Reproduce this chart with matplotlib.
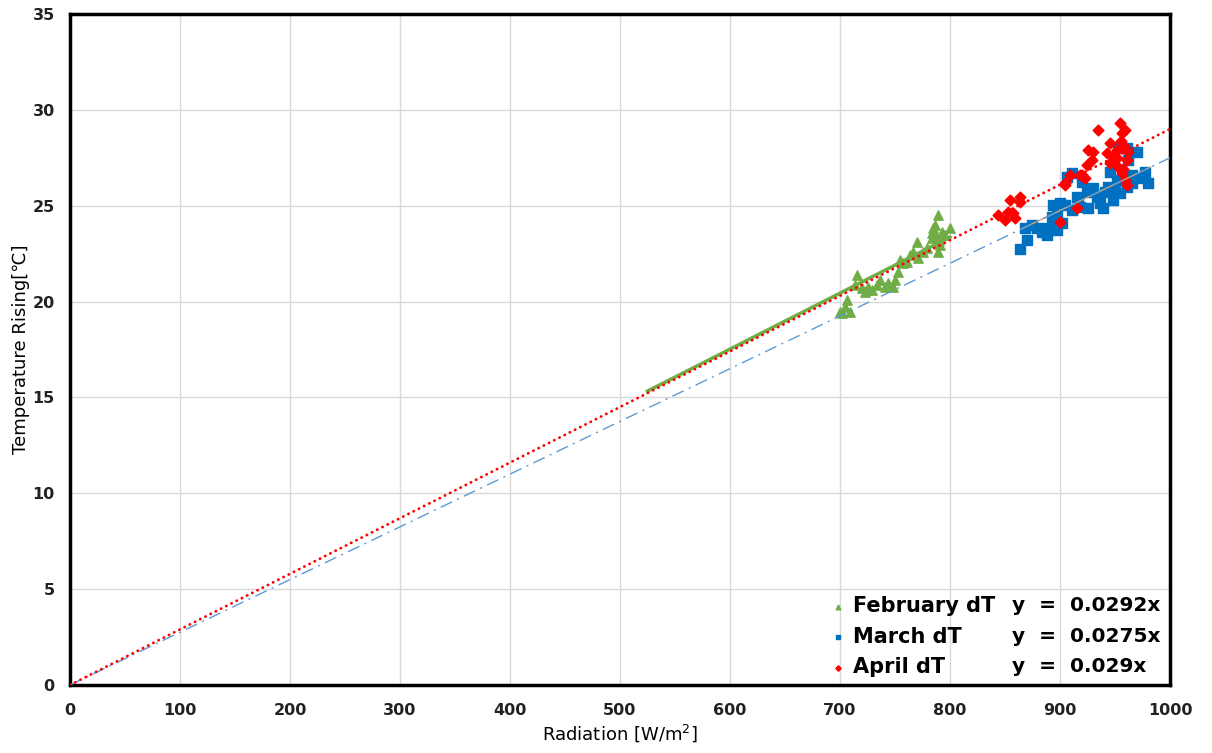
import numpy as np
import matplotlib.pyplot as plt

# Radiation [W/m2] vs temperature rise [C]
feb_x = [700, 701.5, 704.5, 706, 709, 713.6, 715, 719.7, 722.7, 725.8, 728.8, 733.3, 736, 741,
         743.9, 748.5, 750, 753, 754.5, 757.5, 760.6, 763.6, 766.6, 769.7, 771, 775.7, 778.8,
         783.3, 784.8, 786.4, 789.4, 789.4, 787.9, 792.4, 795.5, 800, 786.4, 791, 784, 790]
feb_y = [19.47, 19.39, 19.73, 20.08, 19.47, 20.87, 21.39, 20.7, 20.5, 20.78, 20.6, 20.87, 21.13, 20.78,
         20.95, 20.78, 21.13, 21.56, 22.17, 22.0, 22.08, 22.43, 22.6, 23.13, 22.26, 22.6, 22.78,
         23.3, 23.82, 24.0, 24.5, 22.6, 23.13, 23.65, 23.47, 23.82, 23.47, 22.95, 23.6, 23.2]

mar_x = [863.6, 869.7, 868.2, 874.2, 878.8, 883.3, 887.9, 889.4, 893.9, 897, 892.4, 897, 893.9,
         900, 904.5, 910.6, 906, 915, 918, 901.5, 910.6, 916.7, 919.7, 924.2, 925.8, 930.3,
         933.3, 936.4, 939.4, 940.9, 943.9, 948.5, 950, 945.5, 951.5, 954.5, 953, 960.6, 962,
         965.2, 969.7, 969.7, 977.3, 980.3, 960.6, 965]
mar_y = [22.72, 23.21, 23.82, 24.0, 23.82, 23.65, 23.47, 23.82, 24.0, 23.73, 24.43, 24.52, 25.04,
         25.13, 25.04, 26.7, 26.52, 25.47, 24.95, 24.08, 24.78, 25.39, 26.26, 25.73, 24.86, 25.91,
         25.47, 25.13, 24.86, 25.73, 26.0, 25.3, 25.82, 26.78, 26.34, 25.65, 28.08, 27.99, 27.39,
         26.6, 27.82, 26.43, 26.78, 26.17, 26.0, 26.2]

apr_x = [844, 850, 853, 854.5, 857.5, 859, 863.6, 863.6, 900, 904.5, 909, 915, 918, 904.5,
         919.7, 924.2, 925.8, 930.3, 928.8, 934.8, 922.7, 942.4, 945.5, 945.5, 951.5, 954.5,
         956, 959, 953, 956, 959, 960.6, 960.6, 948.5, 955, 952, 958, 962, 957]
apr_y = [24.52, 24.26, 24.69, 25.3, 24.6, 24.34, 25.47, 25.2, 24.17, 26.08, 26.6, 24.86, 26.6, 26.17,
         26.6, 27.13, 27.91, 27.82, 27.39, 28.95, 26.43, 27.74, 28.26, 27.21, 27.91, 29.3,
         28.78, 28.95, 27.04, 26.7, 26.34, 26.08, 27.39, 27.6, 28.4, 27.5, 28.1, 27.8, 26.9]

# trendline slopes (forced through zero) and drawn ranges
slope_feb, slope_mar, slope_apr = 0.0292, 0.0275, 0.029
feb_fit_x = [525, 800]
mar_fit_x = [865, 982]
full_x = [0, 1000]

labels = ["February dT", "March dT", "April dT"]
equations = ["y  =  0.0292x", "y  =  0.0275x", "y  =  0.029x"]

plt.rcParams['font.family'] = ['DejaVu Sans', 'Noto Sans CJK KR']

fig = plt.figure(figsize=(12.12, 7.53), dpi=100)
ax = fig.add_axes([70/1212, 68/753, 1100/1212, 671/753])

ax.scatter(feb_x, feb_y, marker='^', s=45, color='#70AD47', zorder=3, label=labels[0])
ax.scatter(mar_x, mar_y, marker='s', s=45, color='#0070C0', zorder=3, label=labels[1])
ax.scatter(apr_x, apr_y, marker='D', s=30, color='#FF0000', zorder=3, label=labels[2])

ax.plot(feb_fit_x, [slope_feb*v for v in feb_fit_x], color='#70AD47', lw=2.5, zorder=2)
ax.plot(mar_fit_x, [slope_mar*v for v in mar_fit_x], color='#D4A373', lw=1, zorder=4)
ax.plot(full_x, [slope_mar*v for v in full_x], color='#5B9BD5', lw=1, ls=(0, (9, 4, 1.5, 4)), zorder=4)
ax.plot(full_x, [slope_apr*v for v in full_x], color='#FF0000', lw=2, ls=(0, (0.1, 2.0)),
        dash_capstyle='round', zorder=4)

ax.set_xlim(0, 1000)
ax.set_ylim(0, 35)
ax.set_xticks(np.arange(0, 1001, 100))
ax.set_yticks(np.arange(0, 36, 5))
ax.grid(True, color='#D9D9D9', lw=1)
ax.set_axisbelow(True)
for s in ax.spines.values():
    s.set_linewidth(2.5)
    s.set_color('black')
ax.tick_params(axis='y', length=0, pad=11, labelsize=11.5)
ax.tick_params(axis='x', length=0, pad=13, labelsize=11.5)
for t in ax.get_xticklabels() + ax.get_yticklabels():
    t.set_fontweight('bold')
    t.set_color('#222222')

ax.set_xlabel("Radiation [W/m$^2$]", fontsize=13, labelpad=3)
ax.set_ylabel("Temperature Rising[℃]", fontsize=13, labelpad=2)

leg = ax.legend(loc='lower left', bbox_to_anchor=(0.672, -0.016), frameon=False,
                prop={'weight': 'bold', 'size': 15}, handletextpad=0.2, labelspacing=0.5,
                markerscale=0.5, handlelength=1.0)
for i, eq in enumerate(equations):
    ax.text(0.856, 0.118 - i*0.0455, eq, transform=ax.transAxes, fontsize=14.5,
            fontweight='bold', va='center', ha='left')

fig.savefig("out.png", dpi=100)
